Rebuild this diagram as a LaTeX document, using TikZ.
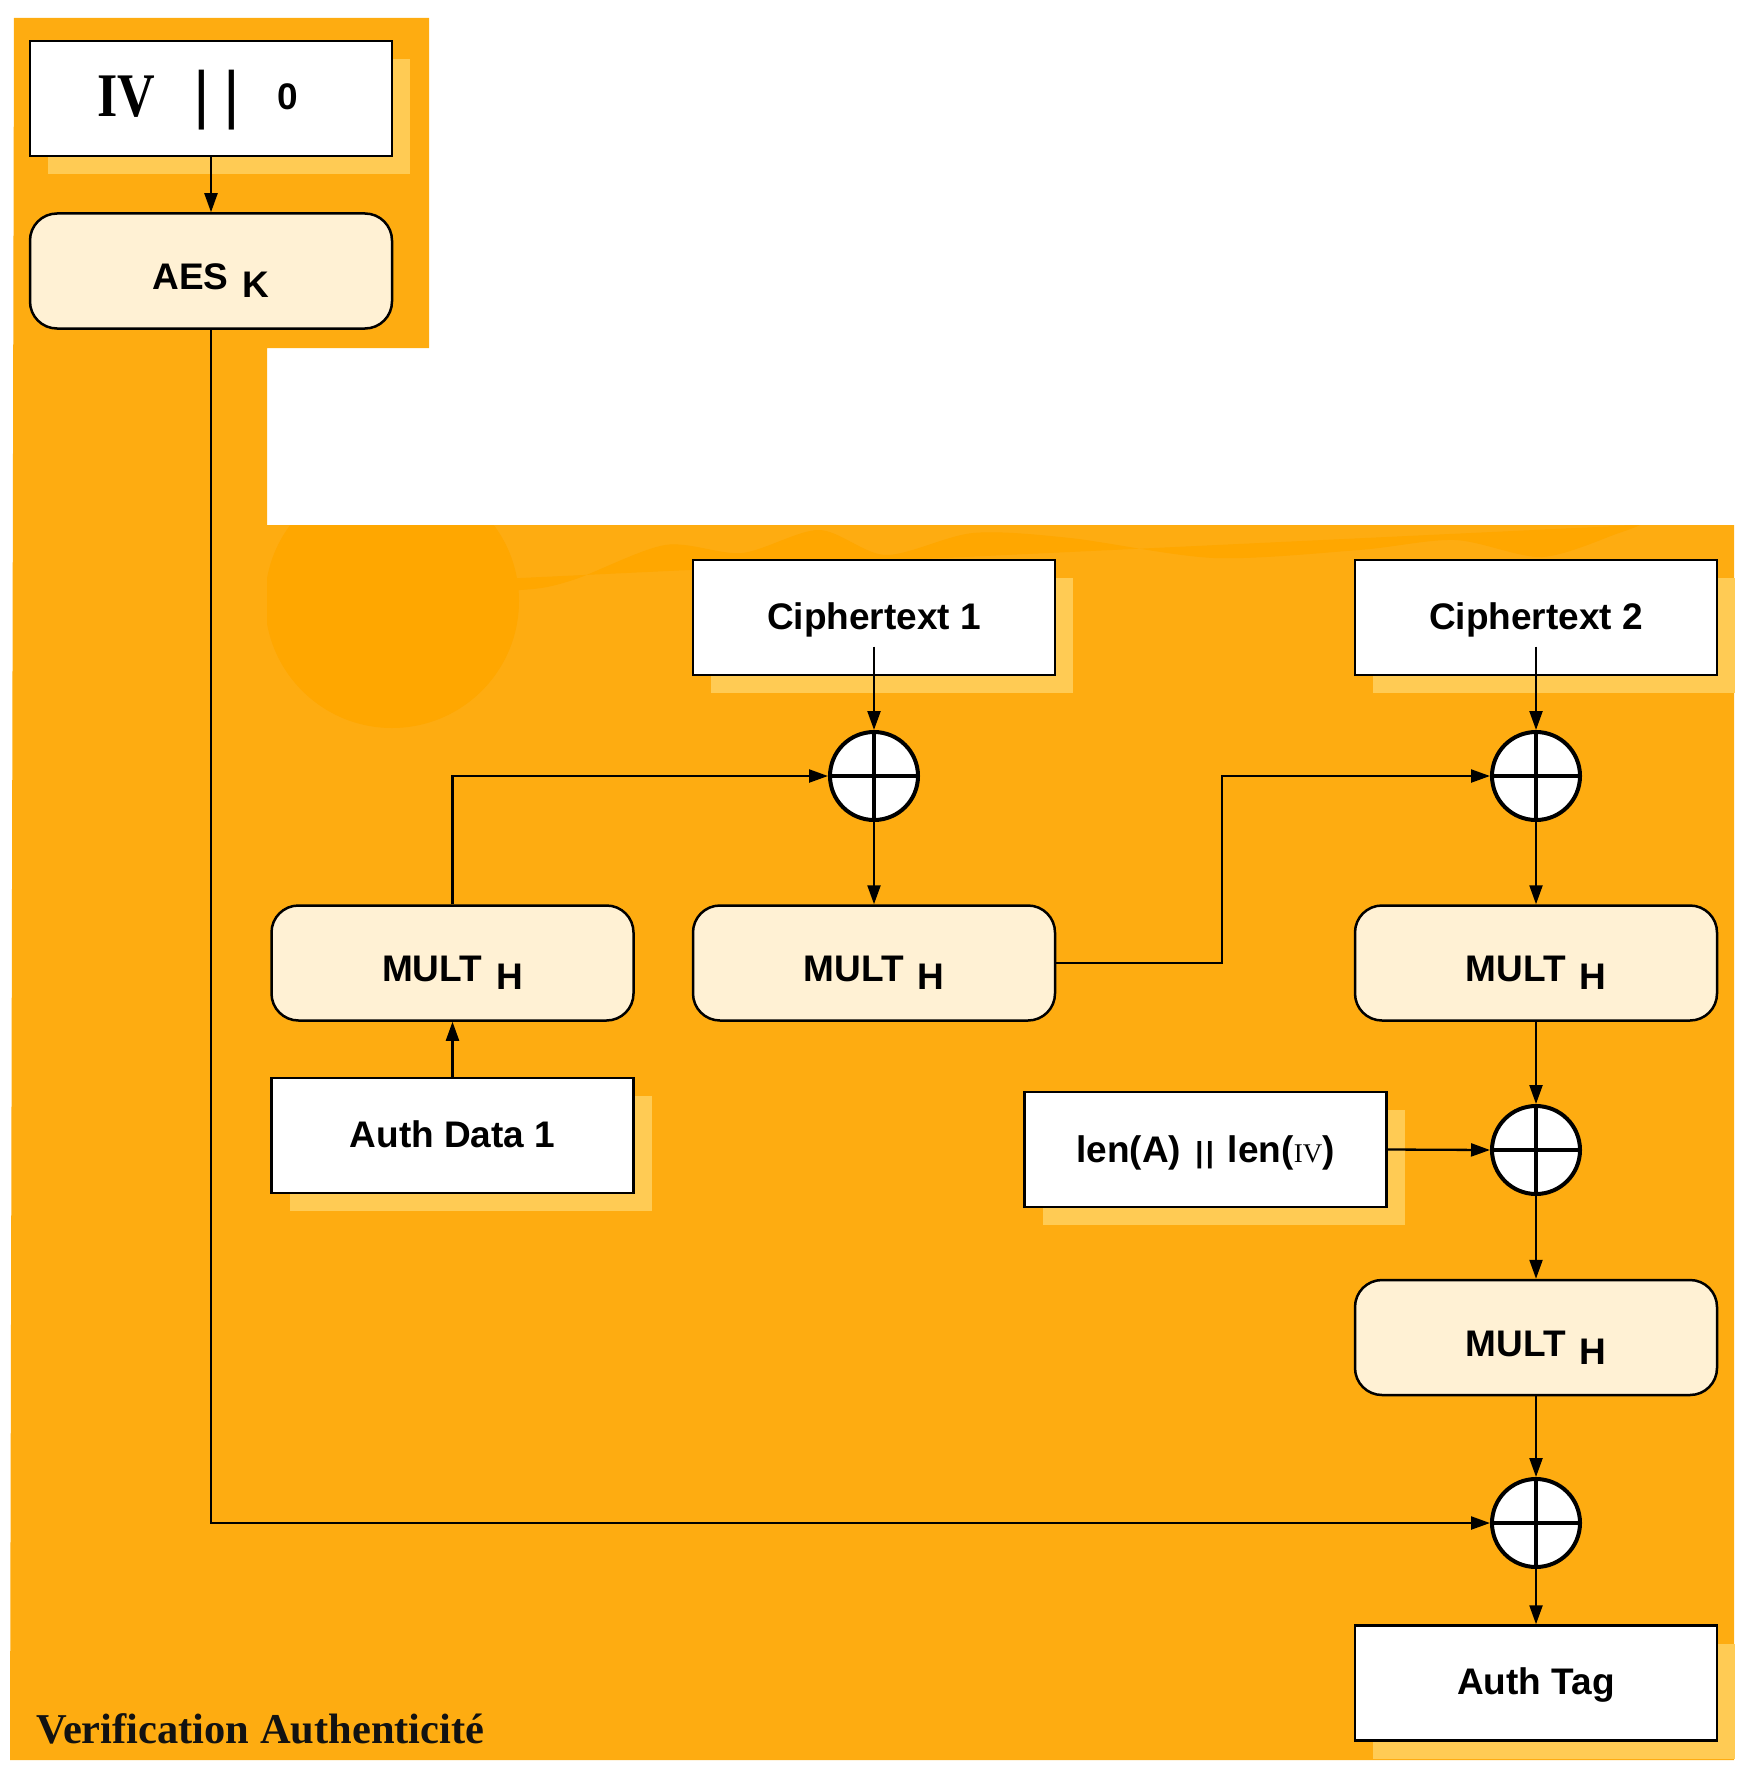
\documentclass[tikz,border=0pt]{standalone}
\usepackage{fontspec}
\setmainfont{Liberation Serif}
\setsansfont{Liberation Sans}
\usetikzlibrary{arrows.meta,shadows}
\definecolor{bgor}{RGB}{254,172,17}
\definecolor{bgdark}{RGB}{255,167,0}
\definecolor{shad}{RGB}{255,203,84}
\definecolor{cream}{RGB}{255,241,212}
\tikzset{
  lbl/.style={font=\sffamily\bfseries\fontsize{37}{40}\selectfont, text height=23pt, text depth=0pt},
  whitebox/.style={draw, line width=2.5pt, fill=white, minimum width=362pt, minimum height=115pt, inner sep=0pt,
    general shadow={shadow xshift=18pt, shadow yshift=-18pt, fill=shad, draw=none}, lbl},
  roundbox/.style={draw, line width=2.5pt, fill=cream, rounded corners=27pt, minimum width=362pt, minimum height=115pt, inner sep=0pt, lbl, text height=37pt},
  xor/.style={circle, draw, line width=4pt, fill=white, minimum size=88pt, inner sep=0pt,
    path picture={\draw[line width=4pt] (path picture bounding box.north) -- (path picture bounding box.south)
      (path picture bounding box.west) -- (path picture bounding box.east);}},
  conn/.style={line width=2.3pt, -{Triangle[length=19pt,width=13pt]}},
  freetext/.style={anchor=base, inner sep=0pt},
}
\begin{document}
\begin{tikzpicture}[x=1pt,y=-1pt]
\useasboundingbox (0,0) rectangle (1761,1784);
% background
\fill[bgor] (14,18) -- (429,18) -- (429,348) -- (267,348) -- (267,525) -- (1734,525) -- (1734,1760) -- (10,1760) -- cycle;
\begin{scope}
\clip (267,525) rectangle (1734,1760);
\fill[bgdark] (392,601) circle (127);
\fill[bgdark] (267,525) -- (1640,525) plot[smooth] coordinates {(1640,525) (1619,533) (1542,557) (1455,540) (1359,550) (1214,558) (1070,538) (973,533) (886,555) (819,530) (742,553) (665,545) (573,580) (520,590) (400,590) (267,590)} -- cycle;
\end{scope}

% nodes
\node[whitebox] (iv) at (211,98.5) {};
\node[freetext, font=\bfseries\fontsize{62}{62}\selectfont] (ivt) at (126,117) {\scalebox{0.84}[1]{IV}};
\node[freetext, font=\sffamily\fontsize{64}{64}\selectfont] (bars) at (217,117) {|\hspace{13.4pt}|};
\node[freetext, font=\sffamily\bfseries\fontsize{37}{37}\selectfont] (zero) at (288,110) {0};

\node[roundbox] (aes) at (211,271) {AES\hspace{14pt}\raisebox{-8pt}{K}};

\node[whitebox] (c1) at (874,617.5) {Ciphertext 1};
\node[whitebox] (c2) at (1536,617.5) {Ciphertext 2};

\node[xor] (x1) at (874,776) {};
\node[xor] (x2) at (1536,776) {};
\node[xor] (x3) at (1536,1150) {};
\node[xor] (x4) at (1536,1523) {};

\node[roundbox] (m1) at (452.5,963) {MULT\hspace{14pt}\raisebox{-8pt}{H}};
\node[roundbox] (m2) at (874,963) {MULT\hspace{14pt}\raisebox{-8pt}{H}};
\node[roundbox] (m3) at (1536,963) {MULT\hspace{14pt}\raisebox{-8pt}{H}};
\node[roundbox] (m4) at (1536,1337.5) {MULT\hspace{14pt}\raisebox{-8pt}{H}};

\node[whitebox] (ad1) at (452.5,1135.5) {Auth Data 1};
\node[whitebox, text height=25pt] (len) at (1205.5,1149.5) {len(A)\hspace{14pt}{\fontsize{29}{29}\selectfont |\hspace{2.5pt}|}\hspace{14pt}len({\rmfamily\mdseries\fontsize{27}{27}\selectfont IV})};
\node[whitebox] (tag) at (1536,1683) {Auth Tag};

\node[anchor=base west, inner sep=0pt, font=\bfseries\fontsize{42.5}{45}\selectfont, text=black!93] (title) at (36,1743) {Verification Authenticité};

% connectors
\draw[conn] (iv.south) -- (aes.north);
\draw[conn] (aes.south) |- (x4.west);
\draw[conn] (ad1.north) -- (m1.south);
\draw[conn] (m1.north) |- (x1.west);
\draw[conn] ([yshift=-29pt]c1.center) -- (x1.north);
\draw[conn] (x1.south) -- (m2.north);
\draw[conn] (m2.east) -- ++(166,0) |- (x2.west);
\draw[conn] ([yshift=-29pt]c2.center) -- (x2.north);
\draw[conn] (x2.south) -- (m3.north);
\draw[conn] (m3.south) -- (x3.north);
\draw[conn] (len.east) -- (x3.west);
\draw[conn] (x3.south) -- (m4.north);
\draw[conn] (m4.south) -- (x4.north);
\draw[conn] (x4.south) -- (tag.north);
\end{tikzpicture}
\end{document}
